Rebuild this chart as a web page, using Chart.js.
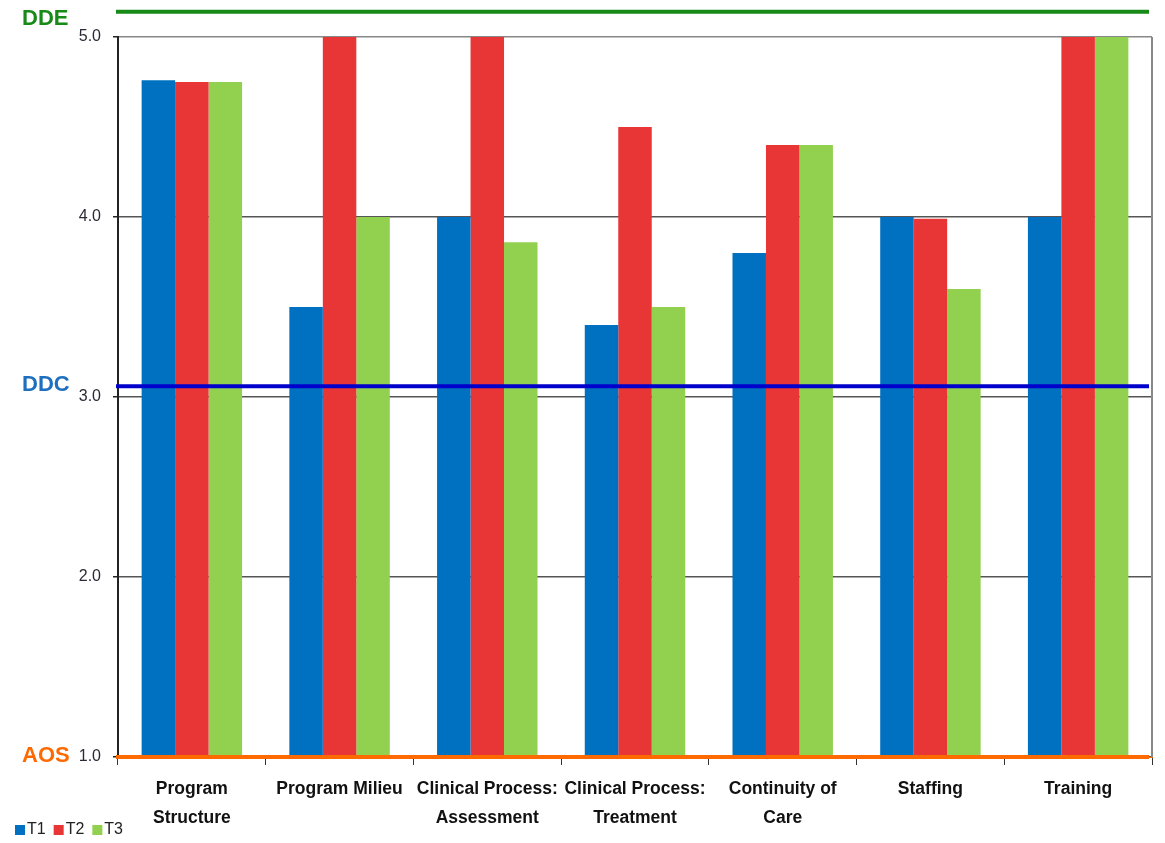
<!DOCTYPE html>
<html>
<head>
<meta charset="utf-8">
<script src="https://cdn.jsdelivr.net/npm/chart.js@4"></script>
<style>
  html, body { margin:0; padding:0; background:#fff; }
  #wrap { width:1165px; height:843px; }
</style>
</head>
<body>
<div id="wrap"><canvas id="chart" width="1165" height="843"></canvas></div>
<script>
// --- DATA ---
const categories = [["Program", "Structure"], "Program Milieu", ["Clinical Process:", "Assessment"], ["Clinical Process:", "Treatment"], ["Continuity of", "Care"], "Staffing", "Training"];
const seriesNames = ["T1", "T2", "T3"];
const t1 = [4.76, 3.5, 4.0, 3.4, 3.8, 4.0, 4.0];
const t2 = [4.75, 5.0, 5.0, 4.5, 4.4, 3.99, 5.0];
const t3 = [4.75, 4.0, 3.86, 3.5, 4.4, 3.6, 5.0];
const refNames = ["DDE", "DDC", "AOS"];
const refValues = [5.14, 3.06, 1.0];

const barColors = ["#0070c0", "#e83536", "#92d050"];
const refColors = ["#178a17", "#0000cc", "#ff6a00"];
const refTextColors = ["#178a17", "#1f6fc0", "#ff6a00"];
const font = "'Liberation Sans', Arial, sans-serif";

// reference lines + their left-side labels, placed with the y scale
const refLines = {
    id: 'refLines',
    afterDatasetsDraw(chart) {
        const { ctx, chartArea, scales } = chart;
        ctx.save();
        refValues.forEach((v, i) => {
            const y = scales.y.getPixelForValue(v);
            ctx.strokeStyle = refColors[i];
            ctx.lineWidth = 4;
            ctx.beginPath();
            ctx.moveTo(chartArea.left - 2, y);
            ctx.lineTo(chartArea.right - 3, y);
            ctx.stroke();
            ctx.fillStyle = refTextColors[i];
            ctx.font = "bold 22px " + font;
            ctx.textAlign = 'left';
            ctx.textBaseline = 'middle';
            ctx.fillText(refNames[i], 22, i === 0 ? y + 7 : y - 1);
        });
        // right border of the plot
        ctx.strokeStyle = '#888';
        ctx.lineWidth = 2;
        ctx.beginPath();
        ctx.moveTo(chartArea.right, chartArea.top);
        ctx.lineTo(chartArea.right, chartArea.bottom);
        ctx.stroke();

        // small legend in the bottom-left corner (sits beside the x labels)
        let x = 15;
        ctx.font = "16px " + font;
        ctx.textBaseline = 'middle';
        chart.data.datasets.forEach((ds) => {
            ctx.fillStyle = ds.backgroundColor;
            ctx.fillRect(x, 825, 10, 10);
            ctx.fillStyle = '#222';
            ctx.fillText(ds.label, x + 12, 830);
            x += 12 + ctx.measureText(ds.label).width + 8;
        });
        ctx.restore();
    }
};

new Chart(document.getElementById('chart').getContext('2d'), {
    type: 'bar',
    data: {
        labels: categories,
        datasets: [t1, t2, t3].map((d, i) => ({
            label: seriesNames[i], data: d, backgroundColor: barColors[i],
            categoryPercentage: 0.68, barPercentage: 1.0
        }))
    },
    options: {
        responsive: false, animation: false,
        layout: { padding: { top: 37, right: 13, left: 12, bottom: 0 } },
        plugins: {
            legend: { display: false },
            tooltip: { enabled: false }
        },
        scales: {
            x: {
                grid: { offset: true, drawOnChartArea: false, drawTicks: true, tickLength: 8, color: '#333' },
                border: { color: '#ff6a00', width: 1 },
                ticks: { color: '#111', font: { family: font, size: 17.5, weight: 'bold', lineHeight: 1.65 }, maxRotation: 0, autoSkip: false, padding: 10 },
                afterFit: (s) => { s.height = 86; }
            },
            y: {
                min: 1, max: 5,
                ticks: { stepSize: 1, color: '#2a2a35', font: { family: font, size: 16 }, padding: 12, callback: (v) => v.toFixed(1) },
                grid: { color: (c) => c.tick && c.tick.value === 5 ? '#888' : '#555', lineWidth: 1.5, tickLength: 5, tickColor: '#222' },
                border: { color: '#222', width: 2 },
                afterFit: (s) => { s.width = 106; }
            }
        }
    },
    plugins: [refLines]
});
</script>
</body>
</html>
